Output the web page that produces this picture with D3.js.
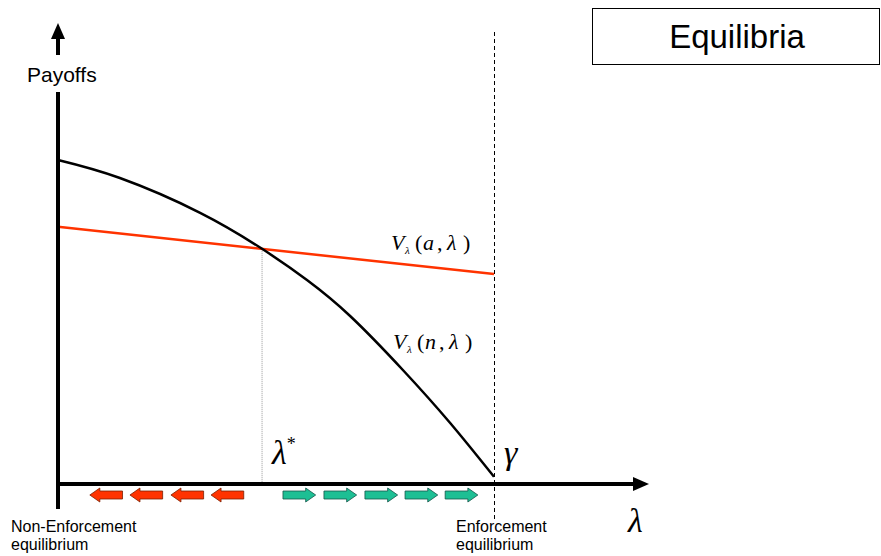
<!DOCTYPE html>
<html>
<head>
<meta charset="utf-8">
<script src="https://cdn.jsdelivr.net/npm/d3@7"></script>
<style>
  html, body { margin: 0; padding: 0; background: #fff; }
  svg { display: block; }
</style>
</head>
<body>
<svg id="chart" width="881" height="556"></svg>
<script>
// lambda runs from 0 to gamma (= 1); payoffs in arbitrary units
const lambdaStar = 0.468;
const gamma = 1;

const nonEnforcePayoff = [
  { l: 0.000, v: 81.0 },
  { l: 0.142, v: 76.5 },
  { l: 0.326, v: 67.8 },
  { l: 0.468, v: 58.8 },
  { l: 0.571, v: 51.0 },
  { l: 0.670, v: 42.0 },
  { l: 0.791, v: 28.5 },
  { l: 0.899, v: 15.3 },
  { l: 1.000, v: 1.8 }
];

const enforcePayoff = [
  { l: 0.000, v: 64.3 },
  { l: 1.000, v: 52.5 }
];

// direction-of-motion arrows along the lambda axis
const leftArrows = [0.073, 0.165, 0.259, 0.351];
const rightArrows = [0.516, 0.610, 0.704, 0.796, 0.888];
const arrowLen = 0.075;

const svg = d3.select("#chart");

const x = d3.scaleLinear().domain([0, 1]).range([58, 494]);
const y = d3.scaleLinear().domain([0, 100]).range([484, 84]);

const sans = "Liberation Sans, Arial, sans-serif";
const serif = "Liberation Serif, Times New Roman, serif";

// title box
svg.append("rect")
  .attr("x", 592.5).attr("y", 8.5)
  .attr("width", 287).attr("height", 56)
  .attr("fill", "#fff").attr("stroke", "#000").attr("stroke-width", 1);
svg.append("text")
  .attr("x", 737).attr("y", 48)
  .attr("text-anchor", "middle")
  .attr("font-family", sans)
  .attr("font-size", 33)
  .text("Equilibria");

// dotted line at lambda*
svg.append("line")
  .attr("x1", x(lambdaStar)).attr("x2", x(lambdaStar))
  .attr("y1", y(58.8)).attr("y2", y(0))
  .attr("stroke", "#999").attr("stroke-width", 1)
  .attr("stroke-dasharray", "1,1");

// dashed line at gamma
svg.append("line")
  .attr("x1", x(gamma) + 0.5).attr("x2", x(gamma) + 0.5)
  .attr("y1", 32).attr("y2", 519)
  .attr("stroke", "#000").attr("stroke-width", 1)
  .attr("stroke-dasharray", "4,3");

// curves
const line = d3.line().x(d => x(d.l)).y(d => y(d.v));
svg.append("path")
  .datum(enforcePayoff)
  .attr("d", line)
  .attr("fill", "none").attr("stroke", "#ff3300").attr("stroke-width", 2.5);

svg.append("path")
  .datum(nonEnforcePayoff)
  .attr("d", line.curve(d3.curveNatural))
  .attr("fill", "none").attr("stroke", "#000").attr("stroke-width", 2.5);

// axes
svg.append("line")
  .attr("x1", x(0)).attr("x2", x(0))
  .attr("y1", 92).attr("y2", 509)
  .attr("stroke", "#000").attr("stroke-width", 4);
svg.append("line")
  .attr("x1", x(0)).attr("x2", x(0))
  .attr("y1", 34).attr("y2", 55)
  .attr("stroke", "#000").attr("stroke-width", 4);
svg.append("path")
  .attr("d", `M${x(0)},23 L${x(0) - 7},39 L${x(0) + 7},39 Z`)
  .attr("fill", "#000");

svg.append("line")
  .attr("x1", x(0) - 2).attr("x2", 636)
  .attr("y1", y(0)).attr("y2", y(0))
  .attr("stroke", "#000").attr("stroke-width", 4);
svg.append("path")
  .attr("d", `M649,${y(0)} L633,${y(0) - 7} L633,${y(0) + 7} Z`)
  .attr("fill", "#000");

// block arrows
function blockArrow(x0, x1, cy, dir) {
  const bh = 4, hh = 7, hl = 10;
  if (dir > 0) {
    return `M${x0},${cy - bh} L${x1 - hl},${cy - bh} L${x1 - hl},${cy - hh} L${x1},${cy} ` +
           `L${x1 - hl},${cy + hh} L${x1 - hl},${cy + bh} L${x0},${cy + bh} Z`;
  }
  return `M${x1},${cy - bh} L${x0 + hl},${cy - bh} L${x0 + hl},${cy - hh} L${x0},${cy} ` +
         `L${x0 + hl},${cy + hh} L${x0 + hl},${cy + bh} L${x1},${cy + bh} Z`;
}

svg.selectAll(".larrow").data(leftArrows).join("path")
  .attr("class", "larrow")
  .attr("d", d => blockArrow(x(d), x(d + arrowLen), 495, -1))
  .attr("fill", "#ff3300").attr("stroke", "#7a2000").attr("stroke-width", 0.8);

svg.selectAll(".rarrow").data(rightArrows).join("path")
  .attr("class", "rarrow")
  .attr("d", d => blockArrow(x(d), x(d + arrowLen), 495, 1))
  .attr("fill", "#1dbf94").attr("stroke", "#15564a").attr("stroke-width", 0.8);

// text labels
svg.append("text")
  .attr("x", 27).attr("y", 82)
  .attr("font-family", sans).attr("font-size", 21)
  .text("Payoffs");

function multi(xp, yp, lines) {
  const t = svg.append("text")
    .attr("x", xp).attr("y", yp)
    .attr("font-family", sans).attr("font-size", 16);
  lines.forEach((s, i) => t.append("tspan").attr("x", xp).attr("dy", i ? 18 : 0).text(s));
}
multi(11, 532, ["Non-Enforcement", "equilibrium"]);
multi(456, 532, ["Enforcement", "equilibrium"]);

function vLabel(xp, yp, arg) {
  const g = svg.append("g");
  const parts = [
    { t: "V", dx: 0, dy: 0 },
    { t: "λ", dx: 14, dy: 4, size: 11 },
    { t: "(", dx: 24, dy: 0, upright: true },
    { t: arg, dx: 32, dy: 0 },
    { t: ",", dx: 46, dy: 0, upright: true },
    { t: "λ", dx: 56, dy: 0 },
    { t: ")", dx: 72, dy: 0, upright: true }
  ];
  parts.forEach(p => {
    g.append("text")
      .attr("x", xp + p.dx).attr("y", yp + p.dy)
      .attr("font-family", serif)
      .attr("font-style", p.upright ? "normal" : "italic")
      .attr("font-size", p.size || 22)
      .text(p.t);
  });
}
vLabel(391, 250, "a");
vLabel(393, 349, "n");

const ls = svg.append("text")
  .attr("x", 272).attr("y", 464)
  .attr("font-family", serif).attr("font-style", "italic").attr("font-size", 34);
ls.append("tspan").text("λ");
ls.append("tspan").attr("font-size", 18).attr("font-style", "normal").attr("dy", -14).text("*");

svg.append("text")
  .attr("x", 504).attr("y", 464)
  .attr("font-family", serif).attr("font-style", "italic").attr("font-size", 34)
  .text("γ");

svg.append("text")
  .attr("x", 628).attr("y", 532)
  .attr("font-family", serif).attr("font-style", "italic").attr("font-size", 34)
  .text("λ");
</script>
</body>
</html>
